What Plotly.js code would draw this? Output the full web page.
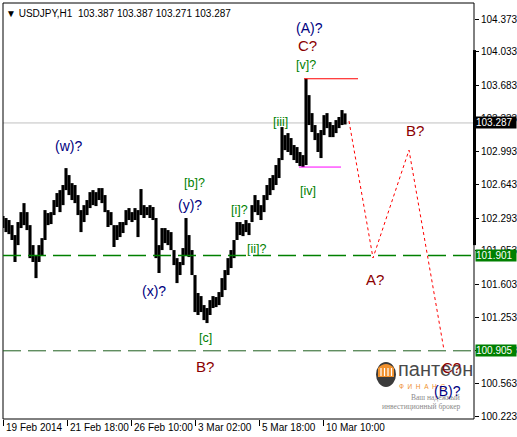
<!DOCTYPE html>
<html>
<head>
<meta charset="utf-8">
<script src="https://cdn.plot.ly/plotly-3.0.1.min.js"></script>
<style>
html,body{margin:0;padding:0;background:#fff;}
#chart{width:517px;height:437px;}
</style>
</head>
<body>
<div id="chart"></div>
<script>
// USDJPY H1 price bars (grouped by 3 trading hours), hours counted from 19 Feb 2014 00:00
const barHour = [0,3,6,9,12,15,18,21,24,27,30,33,36,39,42,45,48,51,54,57,60,63,66,69,72,75,78,81,84,87,
  90,93,96,99,102,105,108,111,114,117,120,123,126,129,132,135,138,141,144,147,150,153,156,159,162,165,168,171,174,177,
  180,183,186,189,192,195,198,201,204,207,210,213,216,219,222,225,228,231,234,237,240,243,246,249,252,255,258,261,264,267,
  270,273,276,279,282,285,288,291,294,297,300,303,306,309,312,315,318,321,324,327,330,333,336,339,342];
const barHigh = [102.314,102.293,102.272,102.219,102.115,102.251,102.355,102.449,102.355,102.219,
  102.010,101.906,102.010,102.083,102.376,102.345,102.355,102.481,102.554,102.585,
  102.638,102.815,102.742,102.658,102.638,102.533,102.376,102.428,102.481,102.564,
  102.585,102.564,102.606,102.606,102.533,102.376,102.355,102.219,102.219,102.251,
  102.251,102.376,102.397,102.355,102.397,102.376,102.596,102.428,102.408,102.428,
  102.408,102.293,102.010,102.188,102.188,102.167,102.146,101.958,101.874,101.833,
  101.979,102.293,102.115,101.958,101.697,101.509,101.477,101.383,101.352,101.435,
  101.477,101.467,101.519,101.665,101.749,101.874,101.958,102.063,102.251,102.251,
  102.230,102.272,102.240,102.428,102.533,102.481,102.428,102.533,102.638,102.711,
  102.742,102.847,102.920,103.244,103.160,103.181,103.129,103.056,103.035,102.983,
  102.951,103.749,103.578,103.390,103.265,103.181,103.213,103.369,103.390,103.296,
  103.265,103.317,103.349,103.422,103.387];
const barLow = [102.188,102.146,102.125,102.063,101.833,102.010,102.188,102.219,102.167,101.874,
  101.833,101.665,101.833,101.906,102.063,102.219,102.230,102.324,102.408,102.355,
  102.428,102.585,102.533,102.481,102.449,102.324,102.146,102.251,102.324,102.397,
  102.428,102.418,102.481,102.449,102.355,102.199,102.219,101.990,102.063,102.094,
  102.136,102.219,102.272,102.251,102.272,102.094,102.324,102.293,102.324,102.293,
  102.272,101.874,101.718,101.958,102.031,102.010,101.958,101.801,101.613,101.697,
  101.801,101.906,101.885,101.697,101.310,101.279,101.310,101.226,101.195,101.279,
  101.352,101.362,101.383,101.467,101.540,101.697,101.770,101.874,102.063,102.115,
  102.104,102.146,102.115,102.251,102.355,102.324,102.272,102.355,102.481,102.533,
  102.585,102.638,102.711,102.899,103.003,102.983,102.951,102.899,102.868,102.836,
  102.826,102.847,103.265,103.192,103.108,102.983,102.920,103.160,103.233,103.139,
  103.139,103.181,103.233,103.265,103.271];

// last bar quote
const symbol = 'USDJPY,H1';
const lastOpen = 103.387, lastHigh = 103.387, lastLow = 103.271, lastClose = 103.287;

// forecast path for the (B) wave
const forecastHour = [346, 370, 406, 441];
const forecastPrice = [103.307, 101.875, 103.003, 100.913];

// support levels
const supportLevels = [101.901, 100.905];

// wave [iv] low and wave [v] high
const ivLevel = 102.826, ivFrom = 296, ivTo = 338;
const vLevel = 103.749, vFrom = 301, vTo = 355;

// wave labels by degree
const minorText = ['[v]?', '[iii]', '[iv]', '[b]?', '[i]?', '[ii]?', '[c]'];
const minorHour = [303, 277, 305, 191, 236, 254, 202];
const minorPrice = [103.892, 103.296, 102.575, 102.659, 102.376, 101.969, 101.039];

const interText = ['(A)?', '(w)?', '(y)?', '(x)?', '(B)?'];
const interHour = [306, 65, 187, 151, 444];
const interPrice = [104.279, 103.046, 102.429, 101.530, 100.484];

const primaryText = ['C?', 'B?', 'B?', 'A?', 'C?'];
const primaryHour = [304, 202, 412, 372, 448];
const primaryPrice = [104.101, 100.746, 103.213, 101.655, 100.735];

// price scale and time scale
const priceTicks = [104.373, 104.033, 103.683, 103.333, 102.993, 102.643, 102.293, 101.953, 101.603, 101.253, 100.913, 100.563, 100.223];
const timeTickHours = [0, 64, 128, 192, 256, 320];
const timeTickText = ['19 Feb 2014', '21 Feb 18:00', '26 Feb 10:00', '3 Mar 02:00', '5 Mar 18:00', '10 Mar 10:00'];

// ---------- drawing ----------
const FONT = 'Liberation Sans, Arial, DejaVu Sans, sans-serif';
const NAVY = '#000080', GREEN = '#008000', DRED = '#8b0000';

const segX = [], segY = [];
barHour.forEach((h, i) => { segX.push(h, h, null); segY.push(barLow[i], barHigh[i], null); });

const traces = [
  {x: segX, y: segY, type: 'scatter', mode: 'lines', line: {color: '#000', width: 3.1}, hoverinfo: 'skip', connectgaps: false},
  {x: forecastHour, y: forecastPrice, type: 'scatter', mode: 'lines', line: {color: '#ff0000', width: 1, dash: 'dot'}, hoverinfo: 'skip'}
];

// plot area in pixels: x 3..474, y 3..419
const PL = 3, PR = 474, PT = 3, PB = 419;
const px = v => (v - PL) / (PR - PL);
const py = v => (PB - v) / (PB - PT);

const shapes = [
  // last price line
  {type: 'line', xref: 'paper', yref: 'y', x0: 0, x1: 1, y0: lastClose, y1: lastClose, line: {color: '#c0c0c0', width: 1}, layer: 'below'},
  // wave [iv] and [v] marks
  {type: 'line', xref: 'x', yref: 'y', x0: ivFrom, x1: ivTo, y0: ivLevel, y1: ivLevel, line: {color: '#ff00ff', width: 1}},
  {type: 'line', xref: 'x', yref: 'y', x0: vFrom, x1: vTo, y0: vLevel, y1: vLevel, line: {color: '#ff0000', width: 1.2}},
  // frame
  {type: 'rect', xref: 'paper', yref: 'paper', x0: 0, x1: 1, y0: 0, y1: 1, line: {color: '#000', width: 1}},
  // scale bar on the right edge
  {type: 'line', xref: 'paper', yref: 'y', x0: px(474.5), x1: px(474.5), y0: 104.049, y1: 102.010, line: {color: '#000', width: 3}},
  // logo emblem
  {type: 'circle', xref: 'paper', yref: 'paper', x0: px(376), x1: px(396), y0: py(387), y1: py(362), fillcolor: '#3b3b3b', line: {width: 0}},
  {type: 'path', xref: 'paper', yref: 'paper',
   path: `M ${px(378)} ${py(377)} L ${px(378)} ${py(368)} Q ${px(386)} ${py(360)} ${px(394)} ${py(368)} L ${px(394)} ${py(377)} Z`,
   fillcolor: '#f0912e', line: {width: 0}}
];
supportLevels.forEach((lv, i) => shapes.push({type: 'line', xref: 'paper', yref: 'y', x0: 0, x1: 1, y0: lv, y1: lv,
  line: {color: i === 0 ? GREEN : '#1f5f1f', width: i === 0 ? 1.4 : 1, dash: '18px,7px'}}));
[381, 384.5, 388, 391.5].forEach(c => shapes.push({type: 'line', xref: 'paper', yref: 'paper', x0: px(c), x1: px(c), y0: py(376), y1: py(368),
  line: {color: '#fff', width: 1.2}}));

const annotations = [];
const addLabels = (texts, hours, prices, color, size) => texts.forEach((t, i) => annotations.push({
  x: hours[i], y: prices[i], xref: 'x', yref: 'y', text: t, showarrow: false,
  font: {family: FONT, size: size, color: color}, xanchor: 'center', yanchor: 'middle'}));

// logo text (drawn first so wave labels sit above it)
annotations.push(
  {xref: 'paper', yref: 'paper', x: px(396), y: py(369), xanchor: 'left', yanchor: 'middle', showarrow: false,
   text: 'пантеон', font: {family: FONT, size: 20, color: '#4a4a4a'}},
  {xref: 'paper', yref: 'paper', x: px(397), y: py(386), xanchor: 'left', yanchor: 'middle', showarrow: false,
   text: 'Ф  И  Н  А  Н  С', font: {family: FONT, size: 6.5, color: '#f0912e'}},
  {xref: 'paper', yref: 'paper', x: px(462), y: py(397), xanchor: 'right', yanchor: 'middle', showarrow: false,
   text: 'Ваш надежный', font: {family: 'Liberation Serif, serif', size: 7.5, color: '#8a8a8a'}},
  {xref: 'paper', yref: 'paper', x: px(462), y: py(406), xanchor: 'right', yanchor: 'middle', showarrow: false,
   text: 'инвестиционный брокер', font: {family: 'Liberation Serif, serif', size: 7.5, color: '#8a8a8a'}}
);

addLabels(minorText, minorHour, minorPrice, GREEN, 12.5);
addLabels(interText, interHour, interPrice, NAVY, 14);
addLabels(primaryText, primaryHour, primaryPrice, DRED, 15);

// header with the last bar quote
annotations.push({xref: 'paper', yref: 'paper', x: 0, y: 1, xanchor: 'left', yanchor: 'top', xshift: 1, yshift: -3,
  showarrow: false, text: '▼ ' + symbol + '  ' + [lastOpen, lastHigh, lastLow, lastClose].map(v => v.toFixed(3)).join(' '),
  font: {family: FONT, size: 10, color: '#000'}});

// price boxes on the scale
const priceBox = (val, bg) => ({xref: 'paper', yref: 'y', x: 1, y: val, xanchor: 'left', yanchor: 'middle', xshift: 1,
  showarrow: false, text: val.toFixed(3), bgcolor: bg, width: 40, height: 11, borderpad: 0, align: 'left',
  font: {family: FONT, size: 10, color: '#fff'}});
annotations.push(priceBox(lastClose, '#000'));
supportLevels.forEach(lv => annotations.push(priceBox(lv, GREEN)));

// time labels, left-aligned to their ticks
timeTickHours.forEach((h, i) => annotations.push({xref: 'x', yref: 'paper', x: h, y: 0, xanchor: 'left', yanchor: 'top',
  xshift: 1, yshift: -1, showarrow: false, text: timeTickText[i], font: {family: FONT, size: 10, color: '#000'}}));

const layout = {
  width: 517, height: 437,
  margin: {l: PL, r: 517 - PR, t: PT, b: 437 - PB, pad: 0},
  paper_bgcolor: '#fff', plot_bgcolor: '#fff',
  showlegend: false,
  xaxis: {range: [0, 471], showgrid: false, zeroline: false, showline: false,
    tickvals: timeTickHours, ticks: 'outside', ticklen: 6, tickcolor: '#000', tickwidth: 1, showticklabels: false},
  yaxis: {range: [100.192, 104.541], side: 'right', showgrid: false, zeroline: false, showline: false,
    tickvals: priceTicks, ticktext: priceTicks.map(v => v.toFixed(3)), ticks: 'outside', ticklen: 4, tickcolor: '#000',
    tickfont: {family: FONT, size: 10, color: '#000'}},
  shapes: shapes,
  annotations: annotations
};

Plotly.newPlot('chart', traces, layout, {staticPlot: true, displayModeBar: false});
</script>
</body>
</html>
